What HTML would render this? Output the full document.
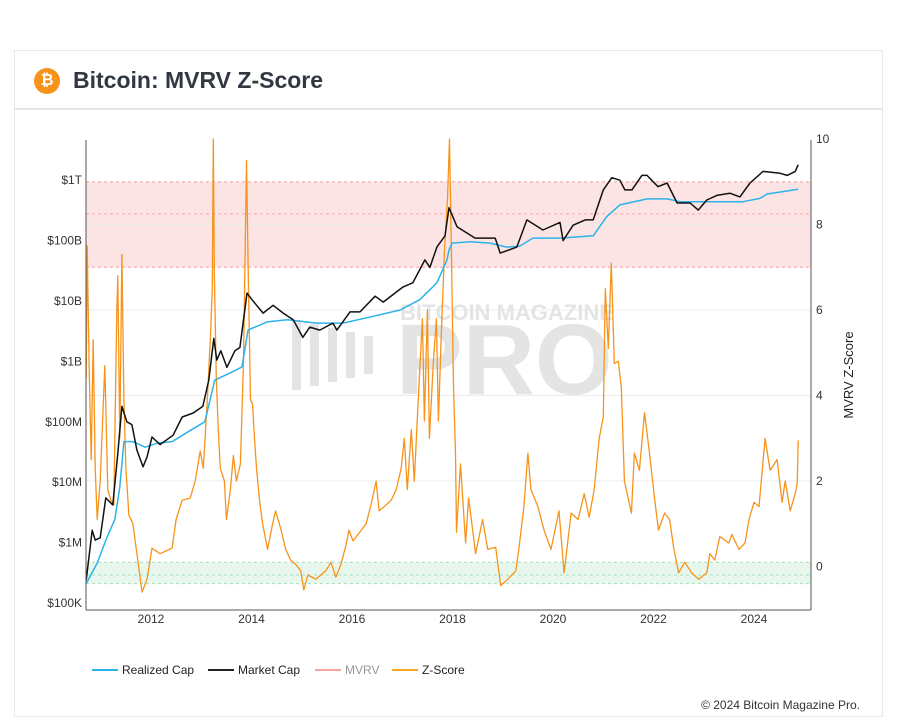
<!DOCTYPE html>
<html><head><meta charset="utf-8"><style>
body{margin:0;background:#fff;width:898px;height:721px;overflow:hidden;font-family:"Liberation Sans",sans-serif}
#card{position:absolute;left:14px;top:50px;width:869px;height:667px;border:1px solid #e8e8e8;box-sizing:border-box}
#hdr{position:absolute;left:0;top:0;width:100%;height:57px;border-bottom:2px solid #e6e6e6}
#icon{position:absolute;left:19px;top:17px;width:26px;height:26px;border-radius:50%;background:#f7931a;color:#fff;font-weight:bold;font-size:16px;text-align:center;line-height:26px}
#title{position:absolute;left:58px;top:16px;font-size:23px;font-weight:bold;color:#323842}
svg{position:absolute;left:0;top:0}
</style></head><body>
<div id="card">
<div id="hdr">
<div id="icon">₿</div>
<div id="title">Bitcoin: MVRV Z-Score</div>
</div></div>
<svg id="chart" width="898" height="721"></svg>
<script>
const mcDates=[2010.71,2010.83,2010.89,2010.99,2011.10,2011.24,2011.34,2011.42,2011.52,2011.62,2011.72,2011.84,2011.92,2012.02,2012.18,2012.44,2012.62,2012.84,2013.03,2013.15,2013.25,2013.31,2013.39,2013.51,2013.67,2013.77,2013.91,2014.01,2014.23,2014.43,2014.63,2014.83,2015.02,2015.16,2015.36,2015.62,2015.70,2015.96,2016.16,2016.46,2016.62,2017.01,2017.21,2017.45,2017.55,2017.69,2017.85,2017.93,2017.95,2018.09,2018.45,2018.85,2018.95,2019.28,2019.48,2019.80,2020.14,2020.20,2020.40,2020.64,2020.80,2021.00,2021.17,2021.33,2021.43,2021.57,2021.77,2021.87,2022.09,2022.27,2022.47,2022.73,2022.89,2023.06,2023.26,2023.52,2023.72,2023.92,2024.18,2024.52,2024.66,2024.82,2024.88];
const mcValues=[2.4e5,1.6e6,1.1e6,1.2e6,5.5e6,4.2e6,3e7,1.8e8,1e8,9e7,3.4e7,1.8e7,2.6e7,5.6e7,4.2e7,6e7,1.2e8,1.4e8,1.8e8,4.9e8,2.4e9,1.05e9,1.5e9,8e8,1.5e9,1.7e9,1.35e10,1.05e10,6.3e9,8.5e9,6.3e9,4.9e9,2.5e9,3.7e9,3.3e9,4.3e9,3.3e9,6.6e9,6.6e9,1.2e10,9.6e9,1.7e10,2e10,4.8e10,3.6e10,7.8e10,1.2e11,3.5e11,3.2e11,1.7e11,1.1e11,1.1e11,6.2e10,7.8e10,2.2e11,1.5e11,2e11,1e11,1.8e11,2.2e11,2.2e11,6.9e11,1.1e12,1e12,6.9e11,6.9e11,1.2e12,1.2e12,7.8e11,9e11,4.2e11,4.2e11,3.2e11,4.7e11,5.6e11,6.1e11,5.3e11,9e11,1.4e12,1.3e12,1.2e12,1.4e12,1.8e12];
const rcDates=[2010.71,2010.93,2011.12,2011.28,2011.38,2011.46,2011.64,2011.88,2012.12,2012.42,2012.72,2013.07,2013.27,2013.57,2013.81,2013.93,2014.31,2014.71,2015.30,2015.82,2016.30,2016.96,2017.35,2017.69,2017.89,2017.93,2017.99,2018.35,2018.75,2019.08,2019.34,2019.60,2020.14,2020.80,2021.07,2021.33,2021.87,2022.27,2022.53,2022.93,2023.78,2024.12,2024.26,2024.88];
const rcValues=[2.1e5,4.6e5,1.2e6,2.4e6,8.3e6,4.7e7,4.7e7,3.8e7,4.4e7,4.7e7,6.7e7,1e8,4.9e8,6.4e8,8.1e8,3.3e9,4.5e9,4.9e9,4.3e9,4.3e9,5.3e9,7.1e9,1.05e10,2e10,4.8e10,7e10,9.1e10,9.6e10,9.1e10,7.8e10,8.1e10,1.1e11,1.1e11,1.2e11,2.5e11,3.9e11,4.9e11,4.9e11,4.4e11,4.4e11,4.4e11,5e11,5.9e11,7.1e11];
const zDates=[2010.71,2010.73,2010.77,2010.81,2010.85,2010.89,2010.93,2010.99,2011.08,2011.14,2011.20,2011.26,2011.32,2011.34,2011.38,2011.42,2011.46,2011.50,2011.56,2011.64,2011.72,2011.82,2011.92,2012.02,2012.18,2012.42,2012.50,2012.62,2012.78,2012.88,2012.98,2013.04,2013.12,2013.18,2013.22,2013.24,2013.26,2013.30,2013.34,2013.38,2013.46,2013.50,2013.58,2013.64,2013.70,2013.78,2013.84,2013.90,2013.94,2013.98,2014.02,2014.06,2014.10,2014.16,2014.22,2014.32,2014.42,2014.48,2014.58,2014.68,2014.78,2014.88,2014.98,2015.04,2015.12,2015.28,2015.48,2015.58,2015.68,2015.78,2015.88,2015.94,2016.02,2016.12,2016.28,2016.38,2016.48,2016.54,2016.64,2016.78,2016.88,2016.98,2017.04,2017.10,2017.18,2017.24,2017.34,2017.40,2017.44,2017.50,2017.54,2017.62,2017.68,2017.72,2017.78,2017.84,2017.90,2017.94,2017.98,2018.02,2018.06,2018.08,2018.16,2018.26,2018.32,2018.46,2018.60,2018.70,2018.86,2018.96,2019.10,2019.26,2019.32,2019.42,2019.50,2019.56,2019.70,2019.82,2019.96,2020.12,2020.22,2020.36,2020.50,2020.62,2020.72,2020.82,2020.92,2021.00,2021.04,2021.10,2021.16,2021.22,2021.30,2021.36,2021.42,2021.56,2021.62,2021.72,2021.82,2021.92,2022.02,2022.10,2022.22,2022.32,2022.40,2022.50,2022.62,2022.76,2022.90,2023.06,2023.12,2023.22,2023.32,2023.50,2023.56,2023.70,2023.82,2023.90,2024.00,2024.10,2024.22,2024.32,2024.46,2024.56,2024.62,2024.72,2024.82,2024.86,2024.88];
const zValues=[4.4,7.5,4.6,2.5,5.3,2.3,1.1,2.0,4.7,1.8,1.55,1.44,6.0,6.8,3.0,7.3,3.9,2.3,1.2,1.0,0.3,-0.6,-0.3,0.43,0.3,0.43,1.1,1.55,1.6,2.0,2.7,2.3,3.9,5.3,6.5,10,6.9,4.4,3.2,2.3,2.0,1.1,1.8,2.6,2.0,2.4,4.8,9.5,6.5,3.9,3.8,3.0,2.3,1.55,1.0,0.4,1.0,1.3,0.9,0.4,0.15,0.05,-0.1,-0.55,-0.2,-0.3,-0.1,0.1,-0.25,0.05,0.5,0.85,0.6,0.75,1.0,1.45,2.0,1.3,1.4,1.55,1.8,2.3,3.0,1.8,3.2,2.0,4.4,5.8,3.4,6.0,3.0,4.8,5.8,3.4,5.5,7.4,8.6,10,7.2,4.2,2.65,0.8,2.4,0.55,1.6,0.3,1.1,0.4,0.45,-0.45,-0.3,-0.1,0.4,1.4,2.65,1.8,1.4,0.85,0.4,1.3,-0.15,1.25,1.1,1.7,1.15,1.8,3.0,3.5,6.5,5.1,7.1,4.75,4.8,4.2,2.0,1.25,2.65,2.25,3.6,2.65,1.6,0.85,1.25,1.1,0.45,-0.15,0.1,-0.15,-0.3,-0.15,0.3,0.15,0.7,0.55,0.75,0.4,0.55,1.1,1.5,1.4,3.0,2.25,2.5,1.5,2.0,1.3,1.7,1.95,2.95];
const leftTicks=[1e5,1e6,1e7,1e8,1e9,1e10,1e11,1e12];
const leftLabels=["$100K","$1M","$10M","$100M","$1B","$10B","$100B","$1T"];
const rightTicks=[0,2,4,6,8,10];
const xTicks=[2012,2014,2016,2018,2020,2022,2024];

const PL=86,PR=811,PT=140,PB=610;
const X=y=>151+(y-2012)*50.25;
const YL=v=>603-(Math.log10(v)-5)*60.4;
const YR=z=>566.5-z*42.75;
const svg=document.getElementById('chart');
const NS='http://www.w3.org/2000/svg';
function mk(t,a,p){const e=document.createElementNS(NS,t);for(const k in a)e.setAttribute(k,a[k]);(p||svg).appendChild(e);return e;}
// bands
let e;
e=mk('rect',{x:PL,y:YR(9),width:PR-PL,height:YR(7)-YR(9),fill:'#fde4e4'});


e=mk('rect',{x:PL,y:YR(0.1),width:PR-PL,height:YR(-0.4)-YR(0.1),fill:'#e8f7ee'});


[[9,'#f4a3a3'],[8.25,'#f4a3a3'],[7,'#f4a3a3'],[0.1,'#a8dcb8'],[-0.2,'#a8dcb8'],[-0.4,'#a8dcb8']].forEach(([z,c])=>{
 mk('line',{x1:PL,x2:PR,y1:YR(z),y2:YR(z),stroke:c,'stroke-dasharray':'3,3','stroke-width':1});
});
rightTicks.forEach(t=>{if(t>0&&t<10)mk('line',{x1:PL,x2:PR,y1:YR(t),y2:YR(t),stroke:'#ececec'});});
// watermark
e=mk('text',{x:400,y:320,'font-size':22,'font-weight':'bold',fill:'#e4e4e4'});e.textContent='BITCOIN MAGAZINE';


e=mk('text',{x:396,y:394,'font-size':100,'font-weight':'bold',fill:'#e4e4e4'});e.textContent='PRO';


for(let i=0;i<5;i++){mk('rect',{x:292+i*18,y:320+i*4,width:9,height:70-i*8,fill:'#e4e4e4'});}
function path(ds,vs,f,c,w,name){let d='';ds.forEach((t,i)=>{d+=(i?'L':'M')+X(t).toFixed(1)+','+f(vs[i]).toFixed(1);});
 const p=mk('path',{d:d,fill:'none',stroke:c,'stroke-width':w,'stroke-linejoin':'round'});
 
 }
path(zDates,zValues,YR,'#f7931a',1.3,'z-score-line');
path(rcDates,rcValues,YL,'#2bb3ea',1.5,'realized-cap-line');
path(mcDates,mcValues,YL,'#111',1.5,'market-cap-line');
// axes
mk('line',{x1:PL,x2:PL,y1:PT,y2:PB,stroke:'#555'});
mk('line',{x1:PR,x2:PR,y1:PT,y2:PB,stroke:'#555'});
mk('line',{x1:PL,x2:PR,y1:PB,y2:PB,stroke:'#555'});
leftTicks.forEach((v,i)=>{e=mk('text',{x:82,y:YL(v)+4,'font-size':12,'text-anchor':'end',fill:'#333'});e.textContent=leftLabels[i];
 
 });
rightTicks.forEach(t=>{e=mk('text',{x:816,y:YR(t)+4,'font-size':12,fill:'#333'});e.textContent=t;
 
 });
xTicks.forEach(t=>{e=mk('text',{x:X(t),y:623,'font-size':12,'text-anchor':'middle',fill:'#333'});e.textContent=t;
 
 });
e=mk('text',{x:853,y:375,'font-size':13,'text-anchor':'middle',fill:'#222',transform:'rotate(-90 853 375)'});e.textContent='MVRV Z-Score';


// legend
[['Realized Cap','#2bb3ea',92,'#222'],['Market Cap','#222',208,'#222'],['MVRV','#f6a5a5',315,'#999'],['Z-Score','#f9a825',392,'#222']].forEach(([n,c,x,tc])=>{
 const g=mk('g',{});
 
 
 mk('line',{x1:x,x2:x+26,y1:670,y2:670,stroke:c,'stroke-width':2},g);
 const t=mk('text',{x:x+30,y:674,'font-size':12,fill:tc},g);t.textContent=n;});
e=mk('text',{x:860,y:709,'font-size':12,'text-anchor':'end',fill:'#333'});e.textContent='© 2024 Bitcoin Magazine Pro.';


</script>
</body></html>
